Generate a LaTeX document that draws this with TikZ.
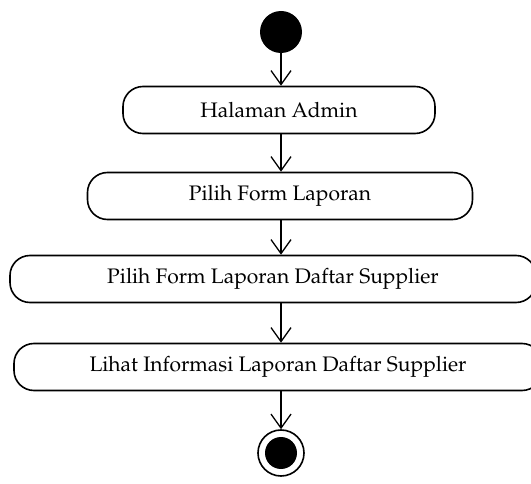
\documentclass[tikz,border=0pt]{standalone}
\usepackage[T1]{fontenc}
\usepackage{mathpazo}
\usetikzlibrary{arrows.meta}

\begin{document}
\begin{tikzpicture}[x=1pt, y=-1pt,
                        attivita/.style={draw, line width=1.6pt, rounded corners=20pt, minimum height=47pt, inner sep=0pt, font=\fontsize{21}{25}\selectfont},
                        freccia/.style={line width=1.3pt, -{Straight Barb[length=14pt, width=20pt, line width=1.3pt]}}]
                        \useasboundingbox (0,0) rectangle (531,484); % dimensioni del disegno
                        \node[circle, fill=black, minimum size=42pt, inner sep=0pt] (inizio) at (281,32) {}; % nodo iniziale
                        \node[attivita, minimum width=312pt] (admin) at (279,110) {Halaman Admin};
                        \node[attivita, minimum width=385pt] (form) at (280,196) {Pilih Form Laporan};
                        \node[attivita, minimum width=526pt] (pilih) at (273,279) {Pilih Form Laporan Daftar Supplier};
                        \node[attivita, minimum width=528pt] (lihat) at (278,367) {Lihat Informasi Laporan Daftar Supplier};
                        \node[circle, draw, line width=1.6pt, minimum size=46pt, inner sep=0pt] (fine) at (281,453) {}; % nodo finale
                        \fill[black] (fine.center) circle (16pt);
                        \draw[freccia] (inizio.south) -- (inizio.south |- admin.north);
                        \draw[freccia] (inizio.south |- admin.south) -- (inizio.south |- form.north);
                        \draw[freccia] (inizio.south |- form.south) -- (inizio.south |- pilih.north);
                        \draw[freccia] (inizio.south |- pilih.south) -- (inizio.south |- lihat.north);
                        \draw[freccia] (inizio.south |- lihat.south) -- (fine.north);
                    \end{tikzpicture}
\end{document}
